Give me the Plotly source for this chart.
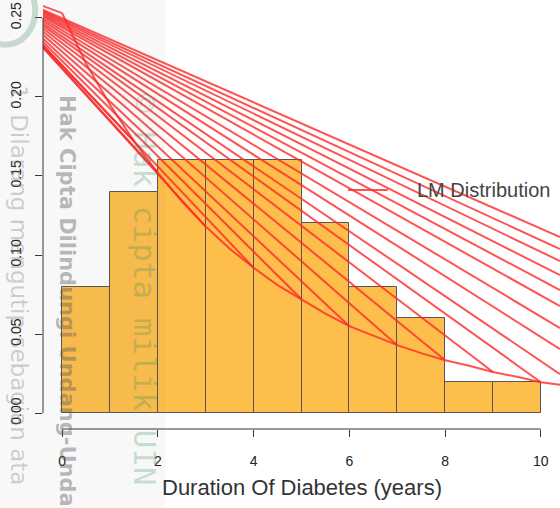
import plotly.graph_objects as go

# ---------------- data ----------------
bin_edges = [0, 1, 2, 3, 4, 5, 6, 7, 8, 9, 10]
bar_density = [0.08, 0.14, 0.16, 0.16, 0.16, 0.12, 0.08, 0.06, 0.02, 0.02]

# fitted LM density (lower envelope of the red lines)
env_x = [0, 0.5, 1, 1.5, 2, 2.5, 3, 3.5, 4, 4.5, 5, 5.5, 6, 6.5, 7, 7.5, 8, 8.5, 9, 9.5, 10, 10.4]
env_y = [0.253, 0.221, 0.195, 0.172, 0.152, 0.134, 0.118, 0.104, 0.092, 0.081, 0.072,
         0.063, 0.055, 0.049, 0.043, 0.038, 0.0335, 0.030, 0.026, 0.023, 0.0196, 0.018]

# red straight segments all radiate from one point left of the plot (read by extrapolation)
hub_x = -1.6
hub_y = 0.271
# segment end points: on the density curve, or where they leave the right edge
target_x = [0, 1.5, 2, 3, 4, 5, 6, 7, 8, 9, 10,
            10.4, 10.4, 10.4, 10.4, 10.4, 10.4, 10.4, 10.4, 10.4]
target_y = [0.253, 0.172, 0.152, 0.118, 0.092, 0.072, 0.055, 0.043, 0.0335, 0.026, 0.0196,
            0.0247, 0.0405, 0.0538, 0.0677, 0.0778, 0.0873, 0.0962, 0.1038, 0.1114]

x_ticks = [0, 2, 4, 6, 8, 10]
y_ticks = [0.00, 0.05, 0.10, 0.15, 0.20, 0.25]

RED = "rgba(255,40,40,0.8)"
FONT = "Liberation Sans, Arial, Helvetica, sans-serif"

fig = go.Figure()

centers = [(bin_edges[i] + bin_edges[i + 1]) / 2 for i in range(len(bar_density))]
widths = [bin_edges[i + 1] - bin_edges[i] for i in range(len(bar_density))]
fig.add_trace(go.Bar(x=centers, y=bar_density, width=widths,
                     marker=dict(color="#FDBE4B", line=dict(color="#555555", width=1)),
                     showlegend=False, hoverinfo="skip"))

for tx, ty in zip(target_x, target_y):
    fig.add_trace(go.Scatter(x=[hub_x, tx], y=[hub_y, ty], mode="lines",
                             line=dict(color=RED, width=2), showlegend=False, hoverinfo="skip"))

fig.add_trace(go.Scatter(x=env_x, y=env_y, mode="lines", line=dict(color=RED, width=2),
                         showlegend=False, hoverinfo="skip"))

# R-style axis lines
fig.add_shape(type="line", xref="x", yref="paper", x0=x_ticks[0], x1=x_ticks[-1], y0=0, y1=0,
              line=dict(color="#333333", width=1))
fig.add_shape(type="line", xref="paper", yref="y", x0=0, x1=0, y0=y_ticks[0], y1=y_ticks[-1],
              line=dict(color="#333333", width=1))

# legend (manual, no box)
fig.add_shape(type="line", xref="paper", yref="paper", x0=0.590, x1=0.667, y0=0.5597, y1=0.5597,
              line=dict(color=RED, width=2))
fig.add_annotation(text="LM Distribution", xref="paper", yref="paper", x=0.7195, y=0.5597,
                   xanchor="left", yanchor="middle", showarrow=False,
                   font=dict(family=FONT, size=20, color="#444444"))

# x-axis title
fig.add_annotation(text="Duration Of Diabetes (years)", xref="paper", yref="paper",
                   x=0.5, y=-0.138, xanchor="center", yanchor="middle", showarrow=False,
                   font=dict(family=FONT, size=22, color="#333333"))

# watermark overlay
fig.add_shape(type="rect", xref="paper", yref="paper", x0=-0.09, x1=0.236, y0=-0.2, y1=1.01,
              fillcolor="rgba(120,120,120,0.05)", line=dict(width=0), layer="above")
fig.add_shape(type="circle", xref="paper", yref="paper", x0=-0.13, x1=-0.015, y0=0.90, y1=1.06,
              fillcolor="rgba(0,0,0,0)", line=dict(color="rgba(110,160,130,0.35)", width=6),
              layer="above")
fig.add_annotation(text="<b>Hak Cipta Dilindungi Undang-Unda</b>", xref="paper", yref="paper",
                   x=0.0464, y=0.787, xanchor="center", yanchor="top", textangle=90,
                   showarrow=False, font=dict(family="DejaVu Sans", size=21, color="rgba(90,90,90,0.42)"))
fig.add_annotation(text="1. Dilarang mengutip sebagian ata", xref="paper", yref="paper",
                   x=-0.045, y=0.81, xanchor="center", yanchor="top", textangle=90,
                   showarrow=False, font=dict(family="DejaVu Sans", size=23, color="rgba(120,120,120,0.35)"))
fig.add_annotation(text="© Hak cipta milik UIN", xref="paper", yref="paper",
                   x=0.197, y=0.79, xanchor="center", yanchor="top", textangle=90,
                   showarrow=False, font=dict(family="DejaVu Sans Mono", size=31, color="rgba(40,140,80,0.25)"))

fig.update_layout(
    width=560, height=508,
    margin=dict(l=43, r=0, t=2, b=79, autoexpand=False),
    paper_bgcolor="white", plot_bgcolor="white",
    bargap=0,
    xaxis=dict(range=[-0.4, 10.4], tickvals=x_ticks, ticktext=[str(v) for v in x_ticks],
               showgrid=False, zeroline=False, showline=False, automargin=False,
               ticks="outside", ticklen=7, tickcolor="#333333", ticklabelstandoff=12,
               tickfont=dict(family=FONT, size=14, color="#222222")),
    yaxis=dict(range=[-0.01, 0.26], tickvals=y_ticks, ticktext=["%.2f" % v for v in y_ticks],
               showgrid=False, zeroline=False, showline=False, automargin=False,
               ticks="outside", ticklen=7, tickcolor="#333333", tickangle=-90, ticklabelstandoff=8,
               tickfont=dict(family=FONT, size=14, color="#222222")),
)

fig.write_html("out.html", config={"displayModeBar": False},
               post_script="document.body.style.margin='0';")
